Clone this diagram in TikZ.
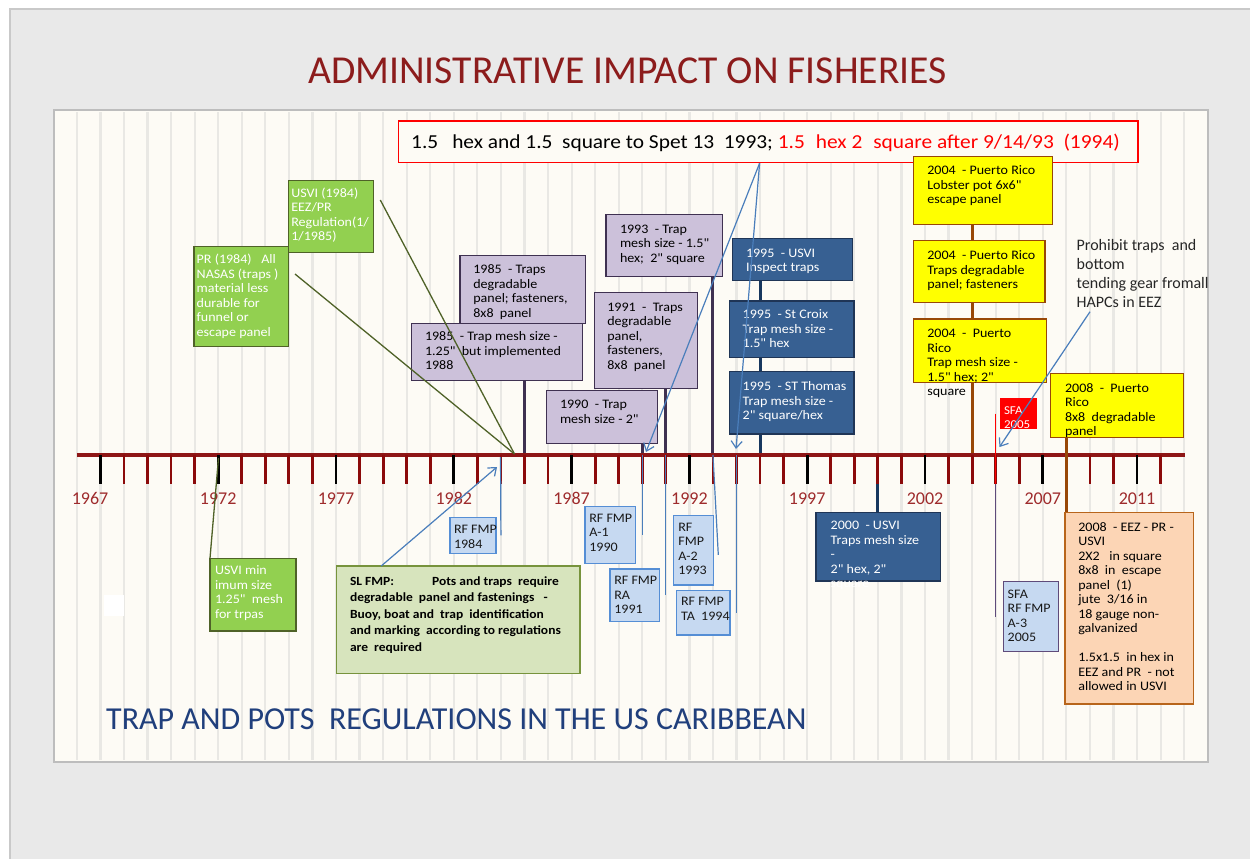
\documentclass[tikz,border=0pt]{standalone}
\usepackage{fontspec}
\setmainfont{Carlito}
\newfontfamily\bxfont[FakeStretch=1.08]{Carlito}
\usetikzlibrary{calc,arrows.meta}
\definecolor{bggrey}{HTML}{E9E9E9}
\definecolor{framec}{HTML}{C9C9C9}
\definecolor{panel}{HTML}{FDFBF5}
\definecolor{panelb}{HTML}{BDBDBD}
\definecolor{stripec}{HTML}{E9E8E4}
\definecolor{titler}{HTML}{8C1C1C}
\definecolor{axisr}{HTML}{8E1616}
\definecolor{tickr}{HTML}{8B0A0A}
\definecolor{yearr}{HTML}{9E2B2C}
\definecolor{lavF}{HTML}{CCC1DA}
\definecolor{lavD}{HTML}{3F3151}
\definecolor{navyF}{HTML}{376092}
\definecolor{navyD}{HTML}{1F3556}
\definecolor{navyS}{HTML}{17375E}
\definecolor{yelF}{HTML}{FFFF00}
\definecolor{brownD}{HTML}{984807}
\definecolor{oraF}{HTML}{FCD5B5}
\definecolor{oraD}{HTML}{B8651B}
\definecolor{rfF}{HTML}{C6D9F1}
\definecolor{rfD}{HTML}{558ED5}
\definecolor{grF}{HTML}{92D050}
\definecolor{grD}{HTML}{4F6228}
\definecolor{slF}{HTML}{D7E4BD}
\definecolor{slD}{HTML}{77933C}
\definecolor{arrB}{HTML}{4A7EBB}
\definecolor{botB}{HTML}{203F7C}
\definecolor{sfaD}{HTML}{5F4B7A}
\pgfdeclarelayer{back}
\pgfdeclarelayer{mid}
\pgfsetlayers{back,mid,main}
\newcommand{\fbx}{\bxfont\fontsize{13}{14.5}\selectfont}
\newcommand{\tbx}[9]{%
 \node[#1, anchor=north west, inner sep=0pt, outer sep=0pt] (#2) at (#3,#4)
 {\parbox[c][\dimexpr#6pt-#4pt\relax][t]{\dimexpr#5pt-#3pt\relax}{\raggedright\leftskip=\dimexpr#7pt-#3pt\relax\rightskip=0pt plus 1fil minus 200pt\relax\vspace*{\dimexpr#8pt-#4pt-0.7\baselineskip+0.3em\relax}\strut#9\par}};}
\tikzset{
 lav/.style={fill=lavF, draw=lavD, line width=1.4pt, font=\fbx, text=black},
 navy/.style={fill=navyF, draw=navyD, line width=1.4pt, font=\fbx, text=white},
 yel/.style={fill=yelF, draw=brownD, line width=1.4pt, font=\fbx, text=black},
 ora/.style={fill=oraF, draw=oraD, line width=1.4pt, font=\fbx, text=black},
 rf/.style={fill=rfF, draw=rfD, line width=1.4pt, font=\fbx, text=black!90},
 gr/.style={fill=grF, draw=grD, line width=1.4pt, font=\fbx, text=white},
 sl/.style={fill=slF, draw=slD, line width=1.2pt, font=\bxfont\fontsize{12.5}{16.5}\selectfont\bfseries, text=black},
 sfar/.style={fill=red, font=\bxfont\fontsize{12}{14}\selectfont, text=white},
 plaintxt/.style={font=\fontsize{16}{19}\selectfont, text=black!85},
 stemP/.style={draw=lavD, line width=3pt},
 stemN/.style={draw=navyS, line width=3pt},
 stemBr/.style={draw=brownD, line width=3pt},
 olv/.style={draw=grD, line width=1.3pt},
 blu/.style={draw=arrB, line width=1.2pt},
 bla/.style={draw=arrB, line width=1.2pt, -{Straight Barb[length=7pt,width=11pt]}},
 redl/.style={draw=red, line width=1.5pt},
 sfal/.style={draw=sfaD, line width=1.5pt},
 tickl/.style={draw=tickr, line width=2.8pt},
 tickb/.style={draw=black, line width=2.8pt},
 yearl/.style={font=\fontsize{18}{20}\selectfont, text=yearr, inner sep=0pt, anchor=base},
}
\begin{document}
\begin{tikzpicture}[x=1pt,y=-1pt]
\useasboundingbox (0,0) rectangle (1250,859);
% ---------- boxes ----------
\tbx{lav}{lavA}{460}{255.7}{585.7}{323.3}{473.3}{270}{1985\ \ - Traps\\degradable\\panel; fasteners,\\8x8\ \ panel}
\tbx{lav}{lavB}{411.7}{323.3}{582.7}{380.7}{425}{336.7}{1985\ \ - Trap mesh size -\\1.25"\ \ but implemented\\1988}
\tbx{lav}{lav93}{606}{214.3}{722.3}{276.7}{620}{229.3}{1993\ \ - Trap\\mesh size - 1.5"\\hex;\ \ 2" square}
\tbx{lav}{lav91}{594.3}{292.3}{697.3}{388.3}{607.3}{307.3}{1991\ \ -\ \ Traps\\degradable\\panel,\\fasteners,\\8x8\ \ panel}
\tbx{lav}{lav90}{546.7}{390.7}{657.7}{443.3}{560}{405}{1990\ \ - Trap\\mesh size - 2"}
\tbx{navy}{usvi95}{732.3}{238.3}{852.3}{280.7}{746}{253.3}{1995\ \ - USVI\\Inspect traps}
\tbx{navy}{croix95}{729.3}{301}{854}{357.3}{742.7}{315}{1995\ \ - St Croix\\Trap mesh size -\\1.5" hex}
\tbx{navy}{thomas95}{729.3}{371.7}{854}{434}{742.7}{386.7}{1995\ \ - ST Thomas\\Trap mesh size -\\2" square/hex}
\tbx{navy}{usvi00}{816}{512.7}{940.7}{581}{830.7}{526}{2000\ \ - USVI\\Traps mesh size\\-\\2" hex, 2"\\square}
\tbx{yel}{pr04a}{913.3}{156.7}{1052.3}{224.3}{927.3}{171}{2004\ \ - Puerto Rico\\Lobster pot 6x6"\\escape panel}
\tbx{yel}{pr04b}{913.3}{240.7}{1045}{302.7}{927.3}{256}{2004\ \ - Puerto Rico\\Traps degradable\\panel; fasteners}
\tbx{yel}{pr04c}{913.3}{319}{1046.7}{382.3}{927.3}{334}{2004\ \ -\ \ Puerto\\Rico\\Trap mesh size -\\1.5" hex;\ 2"\\square}
\tbx{yel}{pr08}{1050.7}{373.3}{1183.3}{437.7}{1065}{388.3}{2008\ \ -\ \ Puerto\\Rico\\8x8\ \ degradable\\panel}
\tbx{ora}{eez08}{1065}{512.7}{1193.3}{704}{1078.3}{527.3}{2008\ \ - EEZ - PR -\\USVI\\2X2\ \ \ in square\\8x8\ \ in\ \ escape\\panel\ \ (1)\\jute\ \ 3/16 in\\18 gauge non-\\galvanized\\[14.4pt]1.5x1.5\ \ in hex in\\EEZ and PR\ \ - not\\allowed in USVI}
\tbx{rf}{rf84}{450}{517.3}{496}{553.3}{454}{530}{RF FMP\\1984}
\tbx{rf}{rfa1}{585}{506.7}{635.7}{563.3}{589.3}{518.3}{RF FMP\\A-1\\1990}
\tbx{rf}{rfra}{610}{569}{659.3}{621.7}{614.3}{580.7}{RF FMP\\RA\\1991}
\tbx{rf}{rfa2}{673.3}{515.7}{713.3}{585}{678.3}{527.3}{RF\\FMP\\A-2\\1993}
\tbx{rf}{rfta}{676.7}{590.7}{730}{635}{681}{601.7}{RF FMP\\TA\ \ 1994}
\tbx{rf, draw=sfaD}{sfa3}{1003.3}{581.7}{1058.3}{651.7}{1007.7}{594.3}{SFA\\RF FMP\\A-3\\2005}
\tbx{gr}{pr84}{194}{246.7}{288.3}{346.7}{196.7}{260}{PR (1984)\ \ \ All\\NASAS (traps )\\material less\\durable for\\funnel or\\escape panel}
\tbx{gr}{usvi84}{288.3}{180.7}{373.3}{252.3}{291.3}{193.3}{USVI (1984)\\EEZ/PR\\Regulation(1/\\1/1985)}
\tbx{gr}{usvimin}{210}{558.3}{296}{631}{215}{571}{USVI min\\imum size\\1.25"\ \ mesh\\for trpas}
\tbx{sl}{slfmp}{336.7}{566}{580}{673.3}{350}{581.7}{SL FMP:\hspace{38pt}Pots and traps\ \ require\\degradable\ \ panel and fastenings\ \ \ -\\Buoy, boat and\ \ trap\ \ identification\\and marking\ \ according to regulations\\are\ \ required}
\tbx{sfar}{sfa05}{1000}{397.7}{1036.7}{429.3}{1004}{411}{SFA\\2005}
\tbx{plaintxt}{hapc}{1076.7}{236}{1235}{320}{1076.7}{246}{Prohibit traps\ \ and\\bottom\\tending gear fromall\\HAPCs in EEZ}
% ---------- titles ----------
\node[anchor=base west, inner sep=0pt, font=\fontsize{39.6}{44}\selectfont, text=titler] (title) at (308,83) {ADMINISTRATIVE IMPACT ON FISHERIES};
\node[anchor=base west, inner sep=0pt, font=\fontsize{32}{36}\selectfont, text=botB] (subtitle) at (106,729) {TRAP AND POTS\ \ REGULATIONS IN THE US CARIBBEAN};
% ---------- background layer ----------
\begin{pgfonlayer}{back}
 \fill[white] (0,0) rectangle (1250,859);
 \fill[bggrey] (10,9) rectangle (1250,859);
 \draw[framec, line width=1.5pt] (10,859) -- (10,9) -- (1250,9);
 \draw[panelb, line width=2pt, fill=panel] (54,110) rectangle (1208,761.5);
 \foreach \k in {-1,...,46} \draw[stripec, line width=2.2pt] ({100.4+23.56*\k},112) -- ++(0,648);
 \fill[white] (104,595) rectangle (123.6,616);
 \node[draw=red, fill=panel, line width=1.5pt, minimum width=739.4pt, minimum height=41.7pt, anchor=north west, inner sep=0pt] (rule93) at (397.6,120) {};
 \node[anchor=base west, inner sep=0pt, font=\bxfont\fontsize{19.8}{24}\selectfont] (rule93t) at (411,148) {1.5\hspace{14pt}hex and 1.5\ \ square to Spet 13\ \ 1993;\ \textcolor{red}{1.5\hspace{11pt}hex 2\hspace{11pt}square after 9/14/93\ \ (1994)}};
\end{pgfonlayer}
% ---------- axis coordinates ----------
\foreach \yr in {1967,...,2012} \coordinate (t\yr) at ({100.4+23.56*(\yr-1967)},455);
\coordinate (axL) at (76.5,455);
\coordinate (axR) at (1185,455);
\begin{pgfonlayer}{mid}
 \draw[stemP] (lavB.south -| t1985) -- (t1985);
 \draw[stemP] (lav90.south -| t1990) -- (t1990);
 \draw[stemP] (lav91.south -| t1991) -- (t1991);
 \draw[stemP] (lav93.south -| t1993) -- (t1993);
 \draw[stemN] (usvi95.south -| t1995) -- (t1995);
 \draw[stemN] (t2000) -- (t2000 |- usvi00.north);
 \draw[stemBr] (pr04a.south -| t2004) -- (t2004);
 \draw[axisr, line width=4pt] (axL) -- (axR);
 \foreach \yr in {1967,...,2012} \draw[tickl] (t\yr) -- ++(0,29);
 \foreach \yr in {1967,1972,...,2007,2011} \draw[tickb] (t\yr) -- ++(0,29);
 \draw[stemBr] (pr08.south -| t2008) -- (t2008 |- eez08.north);
 \node[yearl] (y1967) at (90,504.5) {1967};
 \foreach \yr in {1972,1977,...,2007,2011} \node[yearl] (y\yr) at ({100.4+23.56*(\yr-1967)},504.5) {\yr};
\end{pgfonlayer}
% ---------- connectors ----------
\coordinate (c85) at (514.5,454);
\coordinate (c72) at (218.5,458);
\coordinate (a84) at (497,467);
\coordinate (a90) at (646,452);
\coordinate (a94) at (736,449);
\coordinate (a05) at (999.5,447);
\coordinate (e2005) at ($(t2005)+(0,29)$);
\coordinate (o93) at ($(rule93.south west)+(362,0)$);
\draw[olv] ($(usvi84.north east)+(7,19.3)$) -- (c85);
\draw[olv] ($(pr84.north east)+(6.7,27.3)$) -- (c85);
\draw[olv] (usvimin.north west) -- (c72);
\draw[bla] ($(slfmp.north west)+(44.5,0)$) -- (a84);
\draw[blu] ($(t1984)+(-0.4,2)$) -- (t1984 |- rf84.east);
\draw[blu] (t1990) -- (t1990 |- rfa1.east);
\draw[blu] (t1991) -- (t1991 |- rfra.east);
\draw[blu] (t1993) -- ($(rfa2.east)+(5,4.6)$);
\draw[blu] (t1994) -- (t1994 |- rfta.east);
\draw[redl] (t2005 |- sfa05.east) -- (e2005);
\draw[sfal] (e2005) -- (t2005 |- sfa3.west);
\draw[bla] (o93) -- (a90);
\draw[bla] (o93) -- (a94);
\draw[bla] ($(hapc.south west)+(13.3,-8.3)$) -- (a05);
\end{tikzpicture}
\end{document}
